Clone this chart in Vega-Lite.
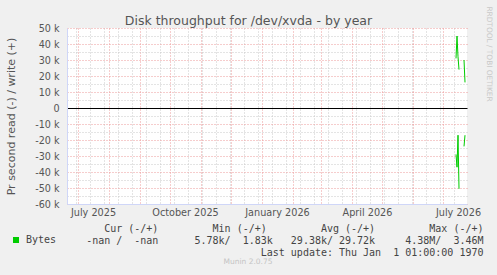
{
  "$schema": "https://vega.github.io/schema/vega-lite/v6.json",
  "autosize": {"type": "none"},
  "width": 400,
  "height": 176,
  "padding": {"left": 67, "top": 28, "right": 30, "bottom": 71},
  "background": "#f0f0f0",
  "view": {"fill": "#ffffff", "stroke": null},
  "title": {"text": "Munin 2.0.75", "orient": "bottom", "anchor": "middle", "frame": "group", "dx": -19, "offset": 1, "font": "DejaVu Sans", "fontSize": 7.5, "fontWeight": "normal", "color": "#c4c4c4"},
  "data": {"values": [
    {"date": "2026-07-14T00:00", "value": 31000, "seg": "w1", "series": "Bytes"},
    {"date": "2026-07-15T00:00", "value": 45000, "seg": "w1", "series": "Bytes"},
    {"date": "2026-07-16T00:00", "value": 32000, "seg": "w1", "series": "Bytes"},
    {"date": "2026-07-17T00:00", "value": 24000, "seg": "w1", "series": "Bytes"},
    {"date": "2026-07-22T00:00", "value": 30000, "seg": "w2", "series": "Bytes"},
    {"date": "2026-07-23T00:00", "value": 16000, "seg": "w2", "series": "Bytes"},
    {"date": "2026-07-14T00:00", "value": -29000, "seg": "r1", "series": "Bytes"},
    {"date": "2026-07-15T00:00", "value": -37000, "seg": "r1", "series": "Bytes"},
    {"date": "2026-07-16T00:00", "value": -17000, "seg": "r1", "series": "Bytes"},
    {"date": "2026-07-17T00:00", "value": -50500, "seg": "r1", "series": "Bytes"},
    {"date": "2026-07-22T00:00", "value": -24000, "seg": "r2", "series": "Bytes"},
    {"date": "2026-07-23T00:00", "value": -17000, "seg": "r2", "series": "Bytes"}
  ]},
  "resolve": {"axis": {"x": "independent", "y": "independent"}},
  "layer": [
    {
      "mark": {"type": "line", "strokeWidth": 1, "color": "#00cc00"},
      "encoding": {
        "x": {
          "field": "date", "type": "temporal",
          "scale": {"domain": [{"year": 2025, "month": 6, "date": 20}, {"year": 2026, "month": 7, "date": 25}]},
          "axis": {
            "orient": "bottom",
            "values": [
              {"year": 2025, "month": 6, "date": 29}, {"year": 2025, "month": 7, "date": 13}, {"year": 2025, "month": 7, "date": 27},
              {"year": 2025, "month": 8, "date": 10}, {"year": 2025, "month": 8, "date": 24}, {"year": 2025, "month": 9, "date": 7},
              {"year": 2025, "month": 9, "date": 21}, {"year": 2025, "month": 10, "date": 5}, {"year": 2025, "month": 10, "date": 19},
              {"year": 2025, "month": 11, "date": 2}, {"year": 2025, "month": 11, "date": 16}, {"year": 2025, "month": 11, "date": 30},
              {"year": 2025, "month": 12, "date": 14}, {"year": 2025, "month": 12, "date": 28}, {"year": 2026, "month": 1, "date": 11},
              {"year": 2026, "month": 1, "date": 25}, {"year": 2026, "month": 2, "date": 8}, {"year": 2026, "month": 2, "date": 22},
              {"year": 2026, "month": 3, "date": 8}, {"year": 2026, "month": 3, "date": 22}, {"year": 2026, "month": 4, "date": 5},
              {"year": 2026, "month": 4, "date": 19}, {"year": 2026, "month": 5, "date": 3}, {"year": 2026, "month": 5, "date": 17},
              {"year": 2026, "month": 5, "date": 31}, {"year": 2026, "month": 6, "date": 14}, {"year": 2026, "month": 6, "date": 28},
              {"year": 2026, "month": 7, "date": 12},
              {"year": 2025, "month": 7, "date": 1}, {"year": 2025, "month": 8, "date": 1}, {"year": 2025, "month": 9, "date": 1},
              {"year": 2025, "month": 10, "date": 1}, {"year": 2025, "month": 11, "date": 1}, {"year": 2025, "month": 12, "date": 1},
              {"year": 2026, "month": 1, "date": 1}, {"year": 2026, "month": 2, "date": 1}, {"year": 2026, "month": 3, "date": 1},
              {"year": 2026, "month": 4, "date": 1}, {"year": 2026, "month": 5, "date": 1}, {"year": 2026, "month": 6, "date": 1},
              {"year": 2026, "month": 7, "date": 1},
              {"year": 2025, "month": 7, "date": 16}, {"year": 2025, "month": 10, "date": 16}, {"year": 2026, "month": 1, "date": 16},
              {"year": 2026, "month": 4, "date": 16}, {"year": 2026, "month": 7, "date": 16}
            ],
            "labelExpr": "date(datum.value) == 16 && month(datum.value) % 3 == 0 ? timeFormat(datum.value, '%B %Y') : ''",
            "labelOverlap": false,
            "labelFlush": false,
            "labelFont": "DejaVu Sans",
            "labelFontSize": 9.7,
            "labelColor": "#555555",
            "labelPadding": 3,
            "ticks": false,
            "domainColor": "#CFD6F8",
            "grid": true,
            "gridColor": {"condition": {"test": "date(datum.value) == 1", "value": "#ec9a9a"}, "value": "#c8c8c8"},
            "gridOpacity": {"condition": {"test": "date(datum.value) == 16 && month(datum.value) % 3 == 0", "value": 0}, "value": 1},
            "gridDash": [1, 2],
            "title": [
              "Cur\u00a0(-/+)\u00a0\u00a0\u00a0\u00a0\u00a0\u00a0\u00a0\u00a0\u00a0Min\u00a0(-/+)\u00a0\u00a0\u00a0\u00a0\u00a0\u00a0\u00a0\u00a0\u00a0Avg\u00a0(-/+)\u00a0\u00a0\u00a0\u00a0\u00a0\u00a0\u00a0\u00a0\u00a0Max\u00a0(-/+)\u00a0",
              "-nan\u00a0/\u00a0\u00a0-nan\u00a0\u00a0\u00a0\u00a0\u00a0\u00a05.78k/\u00a0\u00a01.83k\u00a0\u00a0\u00a029.38k/\u00a029.72k\u00a0\u00a0\u00a0\u00a0\u00a04.38M/\u00a0\u00a03.46M",
              "Last\u00a0update:\u00a0Thu\u00a0Jan\u00a0\u00a01\u00a001:00:00\u00a01970"
            ],
            "titleFont": "DejaVu Sans Mono",
            "titleFontSize": 10,
            "titleFontWeight": "normal",
            "titleColor": "#444444",
            "titleAlign": "right",
            "titleX": 416,
            "titleY": 27,
            "titleBaseline": "alphabetic",
            "titleLineHeight": 12
          }
        },
        "y": {
          "field": "value", "type": "quantitative",
          "scale": {"domain": [-60000, 50000], "nice": false, "zero": false},
          "axis": {
            "orient": "left",
            "values": [-60000, -55000, -50000, -45000, -40000, -35000, -30000, -25000, -20000, -15000, -10000, -5000, 0, 5000, 10000, 15000, 20000, 25000, 30000, 35000, 40000, 45000, 50000],
            "labelExpr": "datum.value % 10000 == 0 ? (datum.value == 0 ? '0' : (datum.value / 1000) + ' k') : ''",
            "labelOverlap": false,
            "labelFlush": false,
            "labelFont": "DejaVu Sans",
            "labelFontSize": 9.6,
            "labelColor": "#555555",
            "labelPadding": 8,
            "ticks": false,
            "domainColor": "#CFD6F8",
            "grid": true,
            "gridColor": {"condition": [{"test": "datum.value == 0", "value": "#000000"}, {"test": "datum.value % 10000 == 0", "value": "#ec9a9a"}], "value": "#c8c8c8"},
            "gridDash": {"condition": {"test": "datum.value == 0", "value": []}, "value": [1, 2]},
            "title": "Pr second read (-) / write (+)",
            "titleFont": "DejaVu Sans",
            "titleFontSize": 11,
            "titleFontWeight": "normal",
            "titleColor": "#555555",
            "titleAngle": -90,
            "titleX": -56,
            "titleY": 88,
            "titleAlign": "center",
            "titleBaseline": "middle"
          }
        },
        "detail": {"field": "seg", "type": "nominal"},
        "color": {
          "field": "series", "type": "nominal",
          "scale": {"range": ["#00cc00"]},
          "legend": {
            "orient": "none", "legendX": -56, "legendY": 207, "title": null, "padding": 0,
            "symbolType": "square", "symbolSize": 36, "symbolFillColor": "#00cc00", "symbolStrokeWidth": 0,
            "labelFont": "DejaVu Sans Mono", "labelFontSize": 10, "labelColor": "#444444", "labelOffset": 5,
            "encode": {"symbols": {"update": {"fill": {"value": "#00cc00"}, "strokeWidth": {"value": 0}}}}
          }
        }
      }
    },
    {
      "mark": {"type": "point", "opacity": 0},
      "encoding": {
        "x": {
          "field": "date", "type": "temporal",
          "scale": {"domain": [{"year": 2025, "month": 6, "date": 20}, {"year": 2026, "month": 7, "date": 25}]},
          "axis": {
            "orient": "top", "labels": false, "ticks": false, "domain": false, "grid": false,
            "title": "Disk throughput for /dev/xvda - by year",
            "titleFont": "DejaVu Sans", "titleFontSize": 12.5, "titleFontWeight": "normal", "titleColor": "#555555",
            "titleX": 181, "titleY": -4, "titleAlign": "center", "titleBaseline": "alphabetic"
          }
        },
        "y": {
          "field": "value", "type": "quantitative",
          "scale": {"domain": [-60000, 50000], "nice": false, "zero": false},
          "axis": {
            "orient": "right", "labels": false, "ticks": false, "domain": false, "grid": false,
            "title": "RRDTOOL / TOBI OETIKER",
            "titleFont": "DejaVu Sans", "titleFontSize": 7.4, "titleFontWeight": "normal", "titleColor": "#c8c8c8",
            "titleAngle": 90, "titleX": 21.5, "titleY": 25.5, "titleAlign": "center", "titleBaseline": "middle"
          }
        }
      }
    }
  ]
}
